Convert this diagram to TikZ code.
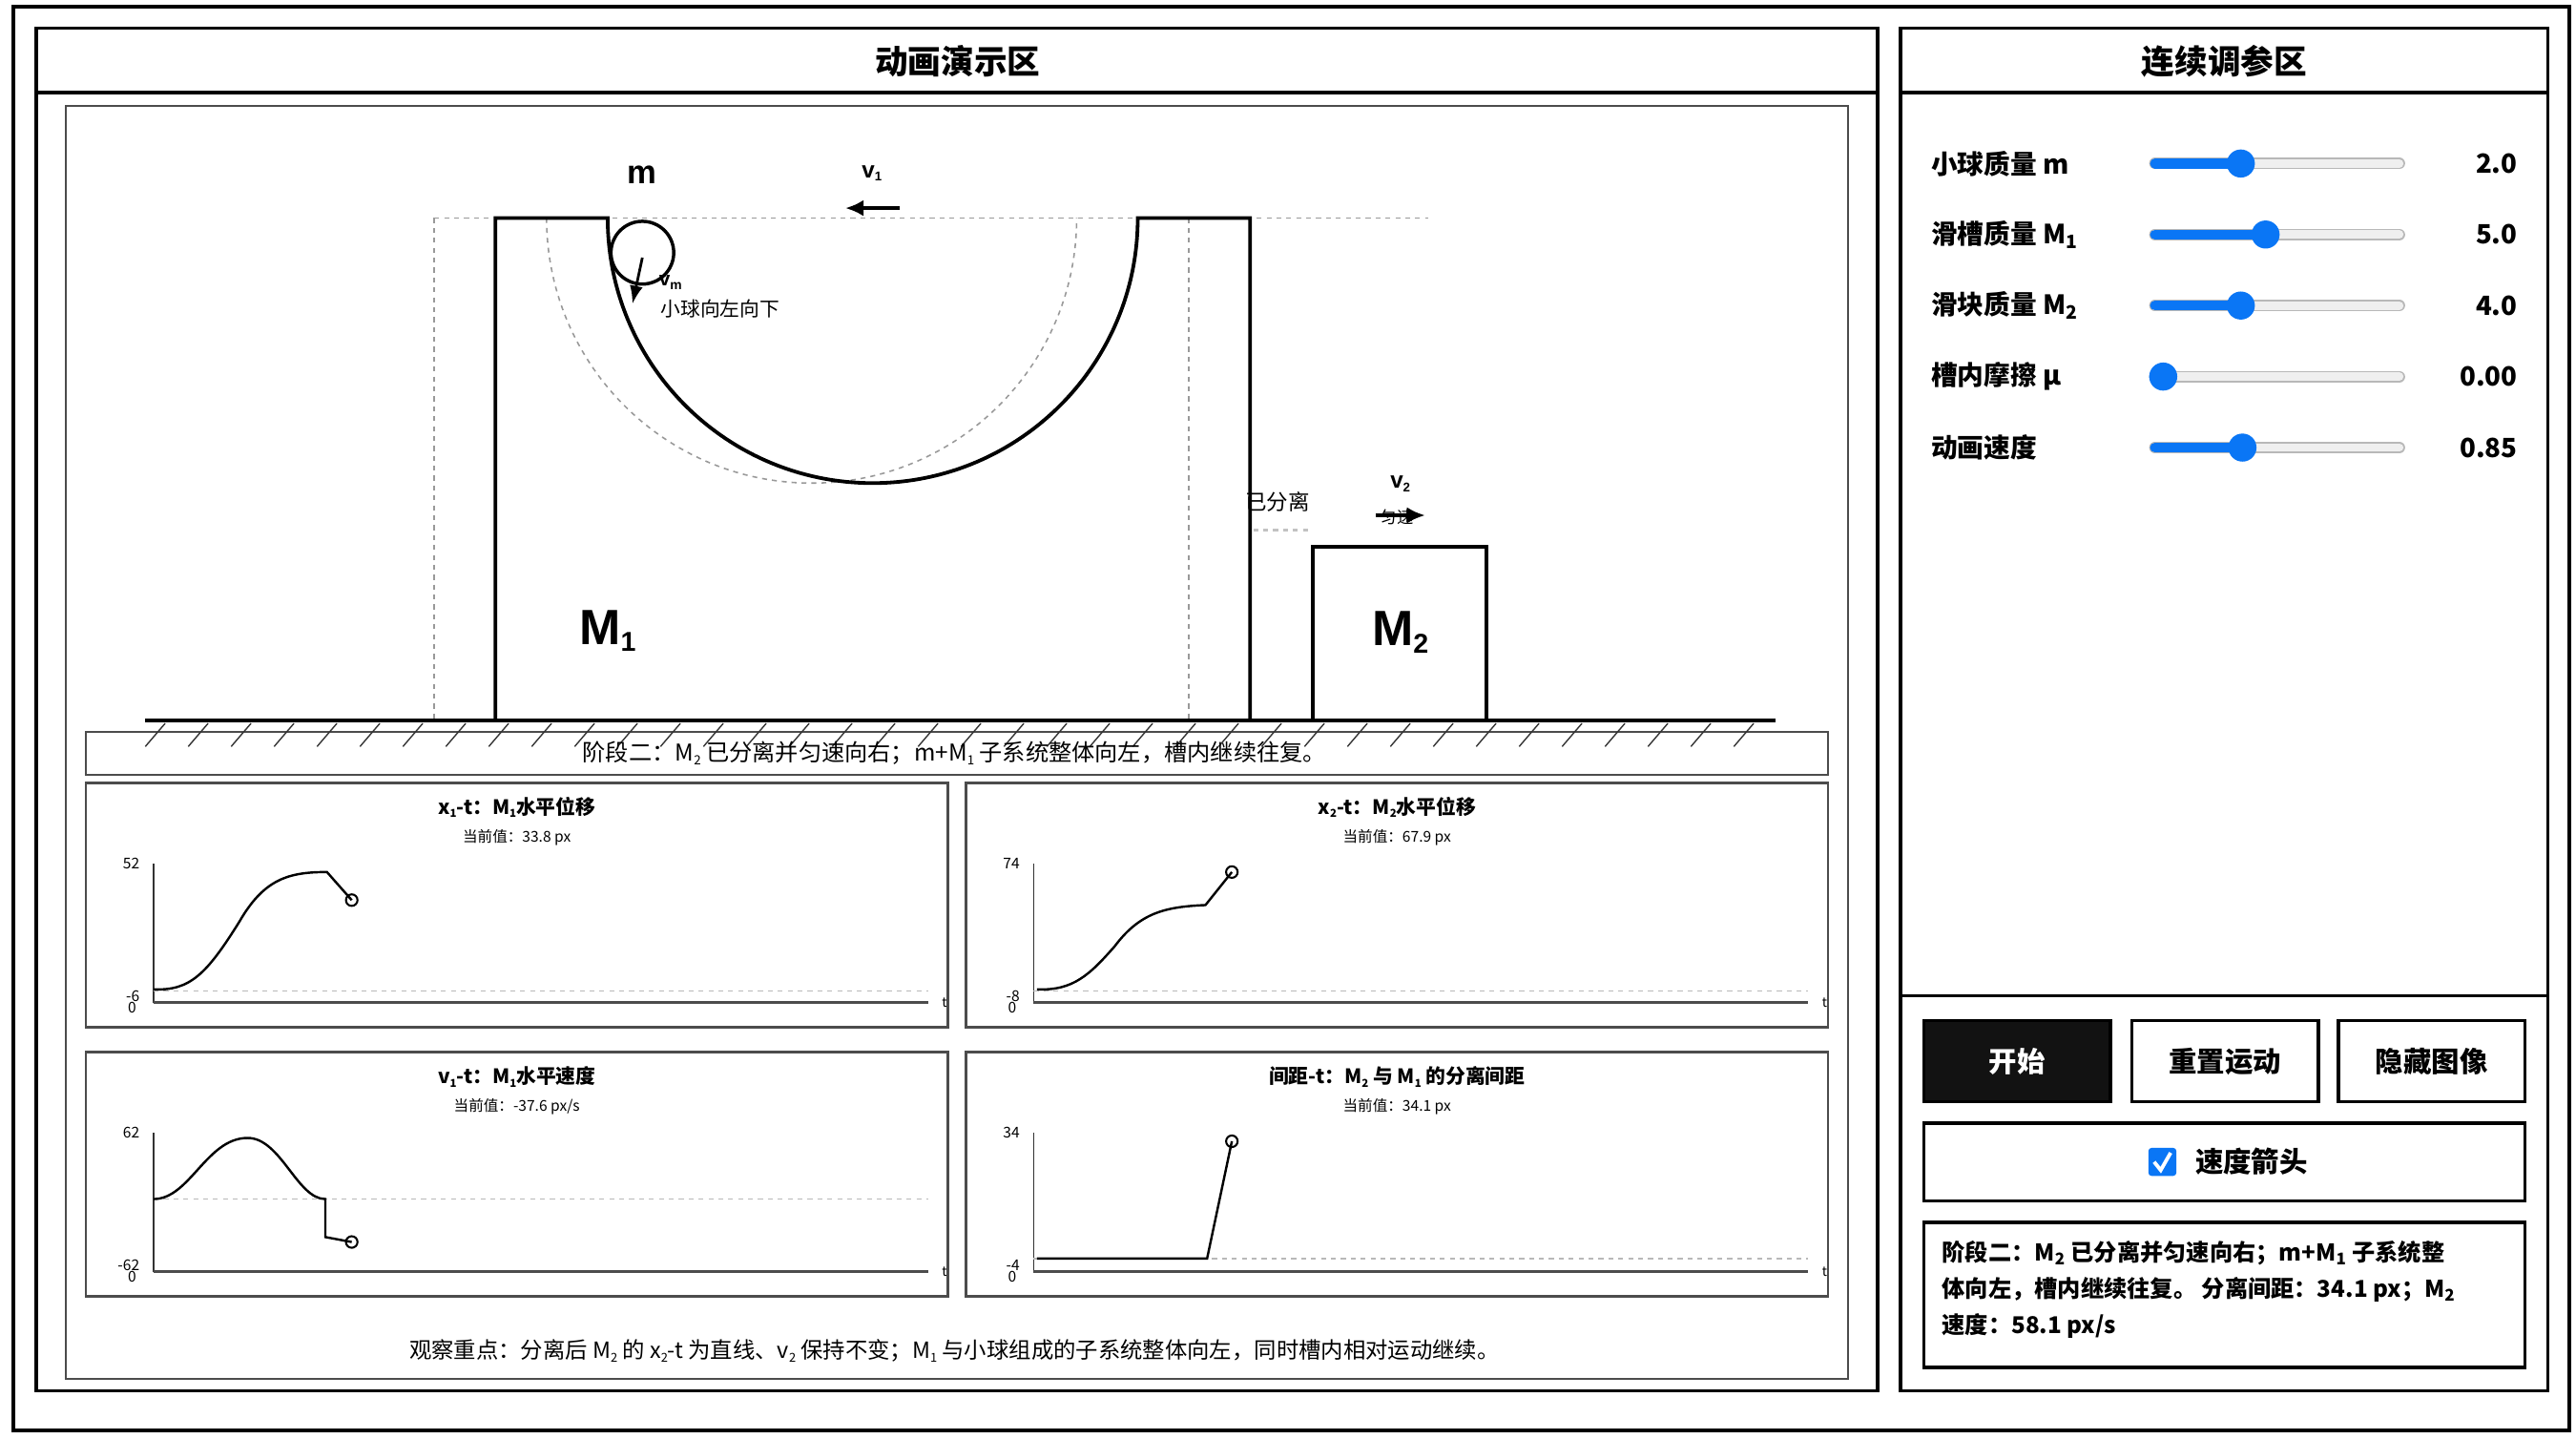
\documentclass[tikz,border=0pt]{standalone}
\usepackage{fontspec}
\usetikzlibrary{arrows.meta}
\setmainfont{Noto Sans CJK SC}
\newfontfamily\latf{Liberation Sans}
\definecolor{sblue}{HTML}{0A76F5}
\definecolor{strack}{HTML}{EFEFEF}
\definecolor{ghost}{HTML}{999999}
\newcommand{\sbs}[1]{\raisebox{-0.15em}{\scalebox{0.55}{#1}}}
\tikzset{
  frame/.style={draw=black,line width=2pt},
  thinframe/.style={draw=black!70,line width=1.6pt},
  ghostline/.style={draw=ghost,dashed,line width=0.9pt},
  solidpart/.style={draw=black,line width=2.2pt},
  curve/.style={draw=black,line width=1.4pt},
  slab/.style={anchor=west,font=\bfseries\fontsize{16}{18}\selectfont},
  sval/.style={anchor=east,font=\bfseries\fontsize{16}{18}\selectfont},
  btn/.style={draw=black,line width=2pt,minimum width=113pt,minimum height=49pt,font=\bfseries\fontsize{17}{20}\selectfont},
  gtitle/.style={font=\bfseries\fontsize{12}{14}\selectfont},
  gsub/.style={font=\fontsize{9}{11}\selectfont},
  glab/.style={font=\fontsize{9}{11}\selectfont,anchor=east},
}
\begin{document}
\begin{tikzpicture}[x=1pt,y=-1pt]
\useasboundingbox (0,0) rectangle (1560,871);
\fill[white] (0,0) rectangle (1560,871);
% outer
\draw[frame] (8,4) rectangle (1556,866);
% left panel
\draw[frame] (22,17) rectangle (1137,842);
\draw[frame] (22,56) -- (1137,56);
\node[font=\bfseries\fontsize{20}{22}\selectfont] (lt) at (580,37) {动画演示区};
\draw[thinframe,line width=1pt] (40,64) rectangle (1119,835);
% right panel
\draw[frame] (1151,17) rectangle (1543,842);
\draw[frame] (1151,56) -- (1543,56);
\draw[frame] (1151,603) -- (1543,603);
\node[font=\bfseries\fontsize{20}{22}\selectfont] (rt) at (1347,37) {连续调参区};
% sliders
\foreach \y/\k/\lab/\val in {99/1357/{小球质量 m}/2.0, 142/1372/{滑槽质量 M\textsubscript{1}}/5.0, 185/1357/{滑块质量 M\textsubscript{2}}/4.0, 228/1310/{槽内摩擦 μ}/0.00, 271/1358/{动画速度}/0.85}{
  \node[slab] at (1166,\y) {\lab};
  \draw[line width=7pt,line cap=round,draw=ghost!70] (1305,\y) -- (1453,\y);
  \draw[line width=5pt,line cap=round,draw=strack] (1305,\y) -- (1453,\y);
  \draw[line width=6pt,line cap=round,draw=sblue] (1305,\y) -- (\k,\y);
  \fill[sblue] (\k,\y) circle (8.5);
  \node[sval] at (1528,\y) {\val};
}
% buttons
\node[btn,fill=black!93,text=white] (b1) at (1221.5,642.5) {开始};
\node[btn] (b2) at (1347.5,642.5) {重置运动};
\node[btn] (b3) at (1472.5,642.5) {隐藏图像};
\draw[frame] (1165,680) rectangle (1529,727);
\fill[sblue,rounded corners=2pt] (1301,695) rectangle (1318,712);
\draw[white,line width=2.2pt] (1304.5,703.5) -- (1308.5,708.5) -- (1314.5,698);
\node[anchor=west,font=\bfseries\fontsize{17}{20}\selectfont] (cb) at (1326,703.5) {速度箭头};
\draw[frame] (1165,740) rectangle (1529,828);
\node[anchor=north west,align=left,font=\bfseries\fontsize{14}{22}\selectfont,inner sep=0pt] (st) at (1176,751)
 {阶段二：M\textsubscript{2} 已分离并匀速向右；m+M\textsubscript{1} 子系统整\\体向左，槽内继续往复。 分离间距：34.1 px；M\textsubscript{2}\\速度：58.1 px/s};
% ---- scene ----
\draw[ghostline] (263,132) -- (865,132);
\draw[ghostline] (263,132) -- (263,436);
\draw[ghostline] (720,132) -- (720,436);
\draw[ghostline] (331,132) arc[start angle=180,end angle=0,radius=160.5];
\draw[solidpart,line join=miter] (300,436) -- (300,132) -- (368,132) arc[start angle=180,end angle=0,radius=160.5] -- (757,132) -- (757,436);
\node[font=\latf\bfseries\fontsize{30}{32}\selectfont] (m1) at (368,382) {M\sbs{1}};
\draw[line width=2pt] (389,153) circle (19);
\node[font=\latf\bfseries\fontsize{20}{22}\selectfont] (mlab) at (389,106) {m};
\draw[line width=1.6pt,-{Latex[length=11pt,width=8pt]}] (389,156) -- (383,184);
\node[font=\latf\bfseries\fontsize{12}{14}\selectfont,anchor=west,inner sep=0pt] (vm) at (399,171) {v\textsubscript{m}};
\node[font=\fontsize{12}{14}\selectfont,anchor=west,inner sep=0pt] (bt) at (400,187) {小球向左向下};
\node[font=\latf\bfseries\fontsize{14}{15}\selectfont] (v1) at (528,105) {v\sbs{1}};
\draw[line width=2pt,-{Latex[length=11pt,width=10pt]}] (545,126) -- (512,126);
\node[font=\fontsize{13}{15}\selectfont,anchor=west,inner sep=0pt] (sep) at (754,304) {已分离};
\draw[ghostline,draw=ghost!60,line width=1.4pt] (759,321) -- (792,321);
\draw[solidpart] (795,436) -- (795,331) -- (900,331) -- (900,436);
\node[font=\latf\bfseries\fontsize{30}{32}\selectfont] (m2) at (848,383) {M\sbs{2}};
\node[font=\latf\bfseries\fontsize{14}{15}\selectfont] (v2) at (848,293) {v\sbs{2}};
\node[font=\fontsize{10}{12}\selectfont] (ys) at (846,313) {匀速};
\draw[line width=2pt,-{Latex[length=11pt,width=10pt]}] (833,312) -- (863,312);
% ground
\draw[line width=2.4pt] (88,436) -- (1075,436);
\draw[thinframe,line width=1.3pt] (52,443) rectangle (1107,469);
\foreach \x in {100,126,...,1075} \draw[line width=0.8pt,black!80] (\x,438) -- (\x-12,452);
\node[font=\fontsize{14}{15}\selectfont] (stage) at (578,456) {阶段二：M\sbs{2} 已分离并匀速向右；m+M\sbs{1} 子系统整体向左，槽内继续往复。};
% ---- graphs ----
\foreach \px/\py/\ttl/\sub/\top/\bot/\dy in {
  52/474/{x\sbs{1}-t：M\sbs{1}水平位移}/{当前值：33.8 px}/52/-6/126,
  585/474/{x\sbs{2}-t：M\sbs{2}水平位移}/{当前值：67.9 px}/74/-8/126,
  52/637/{v\sbs{1}-t：M\sbs{1}水平速度}/{当前值：-37.6 px/s}/62/-62/89,
  585/637/{间距-t：M\sbs{2} 与 M\sbs{1} 的分离间距}/{当前值：34.1 px}/34/-4/125}{
  \draw[thinframe,line width=1.5pt] (\px,\py) rectangle (\px+522,\py+148);
  \node[gtitle] at (\px+261,\py+15) {\ttl};
  \node[gsub] at (\px+261,\py+33) {\sub};
  \draw[line width=0.9pt,black!80] (\px+41,\py+49) -- (\px+41,\py+133);
  \draw[line width=2pt,black!70] (\px+41,\py+133) -- (\px+510,\py+133);
  \draw[ghostline,draw=ghost!70] (\px+41,\py+\dy) -- (\px+510,\py+\dy);
  \node[glab] at (\px+36,\py+49) {\top};
  \node[glab] at (\px+36,\py+129) {\bot};
  \node[glab] at (\px+34,\py+136) {0};
  \node[font=\fontsize{8}{9}\selectfont] at (\px+520,\py+133) {t};
}
\draw[curve] (93,599) .. controls (115,600) and (125,590) .. (145,558) .. controls (160,532) and (175,528) .. (198,528) -- (213,545);
\draw[line width=1.2pt] (213,545) circle (3.5);
\draw[curve] (628,599) .. controls (650,600) and (660,590) .. (675,573) .. controls (690,553) and (705,549) .. (730,548) -- (746,528);
\draw[line width=1.2pt] (746,528) circle (3.5);
\draw[curve] (93,726) .. controls (115,726) and (125,689) .. (150,689) .. controls (170,689) and (180,726) .. (197,726) -- (197,749) -- (213,752);
\draw[line width=1.2pt] (213,752) circle (3.5);
\draw[curve] (628,762) -- (731,762) -- (746,691);
\draw[line width=1.2pt] (746,691) circle (3.5);
\node[font=\fontsize{13.5}{15}\selectfont] (foot) at (578,818) {观察重点：分离后 M\sbs{2} 的 x\sbs{2}-t 为直线、v\sbs{2} 保持不变；M\sbs{1} 与小球组成的子系统整体向左，同时槽内相对运动继续。};
\end{tikzpicture}
\end{document}
